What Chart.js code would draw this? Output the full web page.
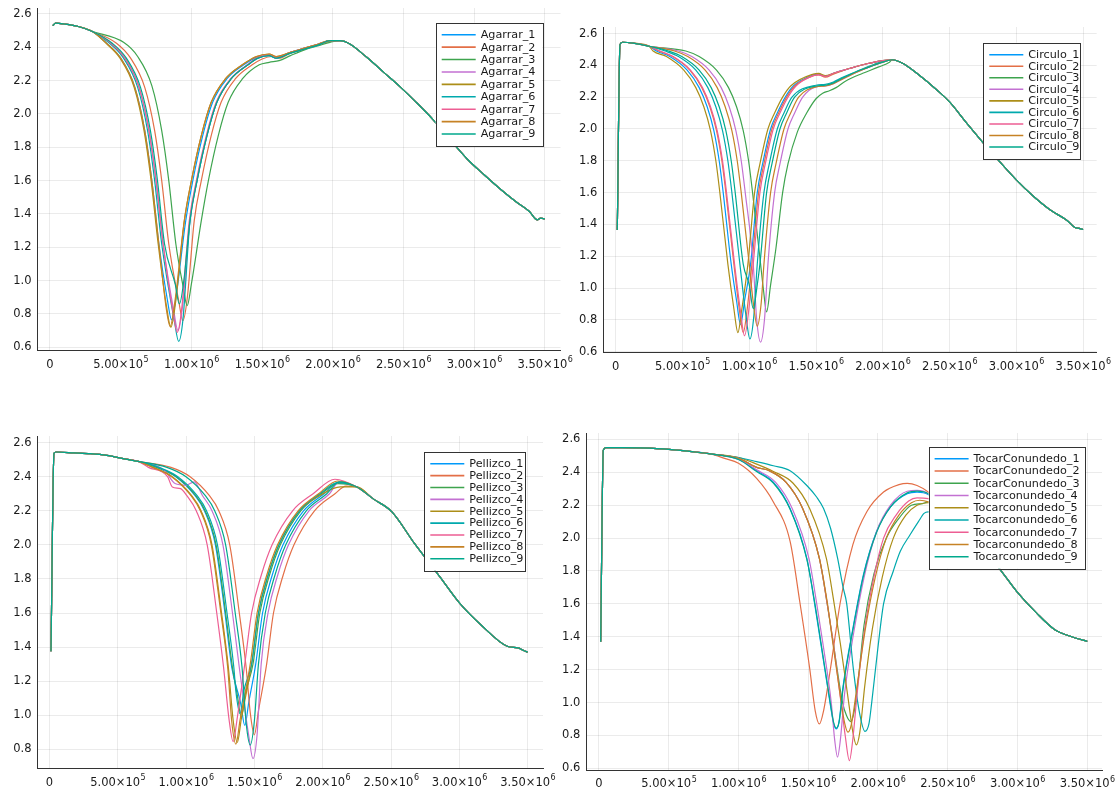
<!DOCTYPE html>
<html>
<head>
<meta charset="utf-8">
<script src="https://cdn.jsdelivr.net/npm/chart.js@4.4.1/dist/chart.umd.min.js"></script>
<style>
  html, body { margin: 0; padding: 0; background: #fff; }
  #wrap { position: relative; width: 1115px; height: 792px; }
  canvas { position: absolute; left: 0; top: 0; }
</style>
</head>
<body>
<div id="wrap">
  <canvas id="agarrar" width="1115" height="792"></canvas>
  <canvas id="circulo" width="1115" height="792"></canvas>
  <canvas id="pellizco" width="1115" height="792"></canvas>
  <canvas id="tocar" width="1115" height="792"></canvas>
</div>
<script>
// x values in the series below are in units of 1e4
const X_UNIT = 1e4;

const xTicks = [0, 5e5, 1e6, 1.5e6, 2e6, 2.5e6, 3e6, 3.5e6];
const yTicksMain = [0.6, 0.8, 1.0, 1.2, 1.4, 1.6, 1.8, 2.0, 2.2, 2.4, 2.6];
const yTicksPellizco = [0.8, 1.0, 1.2, 1.4, 1.6, 1.8, 2.0, 2.2, 2.4, 2.6];

// ---- Agarrar ----
const agarrarLabels = ['Agarrar_1', 'Agarrar_2', 'Agarrar_3', 'Agarrar_4', 'Agarrar_5', 'Agarrar_6', 'Agarrar_7', 'Agarrar_8', 'Agarrar_9'];
const agarrarHead = [[2,2.53],[4,2.545],[10,2.54],[20,2.525],[30,2.495]];
const agarrar1 = [[40,2.425],[50,2.335],[60,2.16],[67,1.9],[72,1.6],[77,1.22],[83,0.885],[86,0.765],[89,0.895],[96,1.36],[101,1.6],[108,1.87],[115,2.07],[125,2.21],[137,2.295],[146,2.34],[155,2.355],[160,2.34],[170,2.37],[180,2.395],[190,2.42],[198,2.44]];
const agarrar2 = [[47,2.425],[57,2.335],[67,2.16],[74,1.9],[79,1.6],[84,1.22],[91,0.88],[94,0.76],[97,0.89],[102,1.36],[107,1.6],[114,1.87],[121,2.07],[131,2.21],[143,2.295],[150,2.33],[157,2.345],[162,2.335],[170,2.365],[180,2.39],[190,2.415],[198,2.435]];
const agarrar3 = [[52,2.43],[62,2.345],[72,2.17],[79,1.9],[84,1.6],[89,1.22],[94,0.97],[97,0.85],[100,0.98],[107,1.36],[112,1.6],[119,1.87],[126,2.07],[136,2.21],[148,2.295],[155,2.31],[162,2.32],[170,2.35],[180,2.385],[190,2.41],[198,2.43]];
const agarrar4 = [[43,2.425],[53,2.335],[63,2.16],[70,1.9],[75,1.6],[80,1.22],[87.5,0.82],[90.5,0.7],[93.5,0.83],[99,1.36],[104,1.6],[111,1.87],[118,2.07],[128,2.21],[140,2.295],[147,2.335],[155,2.35],[160,2.335],[170,2.365],[180,2.39],[190,2.415],[198,2.44]];
const agarrar5 = [[39.5,2.425],[49.5,2.335],[59.5,2.16],[66.5,1.9],[71.5,1.6],[76.5,1.22],[82.5,0.84],[85.5,0.72],[88.5,0.85],[95,1.36],[100,1.6],[107,1.87],[114,2.07],[124,2.21],[136,2.295],[146,2.345],[155,2.36],[160,2.345],[170,2.37],[180,2.395],[190,2.42],[198,2.44]];
const agarrar6 = [[42,2.425],[52,2.335],[62,2.16],[69,1.9],[74,1.6],[79,1.22],[88,0.755],[91,0.635],[94,0.765],[99,1.36],[104,1.6],[111,1.87],[118,2.07],[128,2.21],[140,2.295],[147,2.335],[155,2.35],[160,2.335],[170,2.365],[180,2.39],[190,2.415],[198,2.44]];
const agarrar7 = [[43,2.425],[53,2.335],[63,2.16],[70,1.9],[75,1.6],[80,1.22],[87,0.81],[90,0.69],[93,0.82],[98.5,1.36],[103.5,1.6],[110.5,1.87],[117.5,2.07],[127.5,2.21],[139.5,2.295],[147,2.34],[155,2.355],[160,2.34],[170,2.37],[180,2.395],[190,2.42],[198,2.44]];
const agarrar8 = [[40,2.425],[50,2.335],[60,2.16],[67,1.9],[72,1.6],[77,1.22],[82,0.845],[85,0.725],[88,0.855],[95,1.36],[100,1.6],[107,1.87],[114,2.07],[124,2.21],[136,2.295],[146,2.345],[155,2.36],[160,2.345],[170,2.37],[180,2.395],[190,2.42],[198,2.44]];
const agarrar9 = [[44,2.425],[54,2.335],[64,2.16],[71,1.9],[76,1.6],[81,1.22],[88.5,0.98],[91.5,0.86],[94.5,0.99],[99,1.36],[104,1.6],[111,1.87],[118,2.07],[128,2.21],[140,2.295],[147,2.335],[155,2.35],[160,2.335],[170,2.365],[180,2.39],[190,2.415],[198,2.44]];
const agarrarTail = [[205,2.44],[212,2.42],[224,2.34],[236,2.25],[248,2.16],[259,2.07],[271,1.965],[283,1.845],[295,1.73],[307,1.635],[319,1.545],[330,1.47],[339,1.415],[344.5,1.365],[347,1.375],[350,1.37]];

// ---- Circulo ----
const circuloLabels = ['Circulo_1', 'Circulo_2', 'Circulo_3', 'Circulo_4', 'Circulo_5', 'Circulo_6', 'Circulo_7', 'Circulo_8', 'Circulo_9'];
const circuloHead = [[1.2,1.365],[3.2,2.53],[5,2.545],[13,2.54],[25,2.52]];
const circulo1 = [[30.5,2.49],[40.5,2.455],[53.5,2.37],[62.5,2.26],[68.5,2.14],[73.5,1.99],[77.5,1.8],[80.5,1.6],[86.5,1.15],[90.5,0.92],[93.5,0.77],[96.5,0.92],[101,1.15],[106,1.6],[110,1.78],[116,2.0],[121,2.1],[127,2.2],[133,2.27],[148,2.34],[152,2.345],[157,2.33],[163,2.35],[175,2.38],[188,2.41],[200,2.43]];
const circulo2 = [[32.5,2.49],[42.5,2.455],[55.5,2.37],[64.5,2.26],[70.5,2.14],[75.5,1.99],[79.5,1.8],[82.5,1.6],[88.5,1.15],[92.5,0.87],[95.5,0.72],[98.5,0.87],[102,1.15],[107,1.6],[111,1.78],[117,2.0],[122,2.1],[128,2.2],[134,2.27],[148,2.335],[152,2.34],[157,2.325],[163,2.345],[175,2.38],[188,2.41],[200,2.43]];
const circulo3 = [[52.5,2.49],[62.5,2.455],[75.5,2.37],[84.5,2.26],[90.5,2.14],[95.5,1.99],[99.5,1.8],[102.5,1.6],[108.5,1.15],[110.5,1.0],[113,0.85],[116,1.02],[120,1.25],[125,1.6],[129,1.78],[136,1.98],[143,2.1],[150,2.19],[155,2.225],[160,2.24],[165,2.26],[172,2.3],[185,2.35],[197,2.39],[205,2.42]];
const circulo4 = [[47,2.49],[57,2.455],[70,2.37],[79,2.26],[85,2.14],[90,1.99],[94,1.8],[97,1.6],[103,1.15],[105.5,0.81],[108.5,0.66],[111.5,0.81],[114,1.15],[119,1.6],[123,1.78],[129,2.0],[134,2.1],[140,2.2],[150,2.265],[157,2.27],[163,2.285],[170,2.315],[180,2.355],[190,2.39],[200,2.42]];
const circulo5 = [[28,2.49],[38,2.455],[51,2.37],[60,2.26],[66,2.14],[71,1.99],[75,1.8],[78,1.6],[84,1.15],[88.5,0.87],[91.5,0.72],[94.5,0.87],[99,1.15],[104,1.6],[108,1.78],[114,2.0],[119,2.1],[125,2.2],[131,2.27],[148,2.345],[152,2.35],[157,2.335],[163,2.35],[175,2.38],[188,2.41],[200,2.43]];
const circulo6 = [[37,2.49],[47,2.455],[60,2.37],[69,2.26],[75,2.14],[80,1.99],[84,1.8],[87,1.6],[93,1.15],[97.5,0.83],[100.5,0.68],[103.5,0.83],[106,1.15],[111,1.6],[115,1.78],[121,2.0],[126,2.1],[132,2.2],[150,2.275],[157,2.28],[163,2.295],[170,2.325],[180,2.36],[190,2.395],[200,2.425]];
const circulo7 = [[33,2.49],[43,2.455],[56,2.37],[65,2.26],[71,2.14],[76,1.99],[80,1.8],[83,1.6],[89,1.15],[93.5,0.85],[96.5,0.7],[99.5,0.85],[103,1.15],[108,1.6],[112,1.78],[118,2.0],[123,2.1],[129,2.2],[135,2.27],[148,2.335],[152,2.34],[157,2.33],[163,2.35],[175,2.38],[188,2.41],[200,2.43]];
const circulo8 = [[44,2.49],[54,2.455],[67,2.37],[76,2.26],[82,2.14],[87,1.99],[91,1.8],[94,1.6],[100,1.15],[103,0.91],[106,0.76],[109,0.91],[111,1.15],[116,1.6],[120,1.78],[126,2.0],[131,2.1],[137,2.2],[150,2.265],[157,2.27],[163,2.285],[170,2.315],[180,2.355],[190,2.39],[200,2.42]];
const circulo9 = [[39.5,2.49],[49.5,2.455],[62.5,2.37],[71.5,2.26],[77.5,2.14],[82.5,1.99],[86.5,1.8],[89.5,1.6],[95.5,1.15],[100,1.02],[103,0.87],[106,1.02],[108,1.15],[113,1.6],[117,1.78],[123,2.0],[128,2.1],[134,2.2],[150,2.27],[157,2.275],[163,2.29],[170,2.32],[180,2.36],[190,2.39],[200,2.42]];
const circuloTail = [[207,2.435],[215.5,2.41],[225.5,2.35],[240.5,2.245],[250,2.17],[263,2.035],[275.5,1.91],[288,1.79],[300,1.68],[313,1.575],[325.5,1.49],[338,1.425],[344,1.38],[347,1.375],[350,1.368]];

// ---- Pellizco ----
const pellizcoLabels = ['Pellizco_1', 'Pellizco_2', 'Pellizco_3', 'Pellizco_4', 'Pellizco_5', 'Pellizco_6', 'Pellizco_7', 'Pellizco_8', 'Pellizco_9'];
const pellizcoHead = [[1.2,1.375],[3.4,2.537],[5,2.545],[18,2.54],[30,2.535],[42,2.525],[55,2.505],[65,2.49]];
const pellizco1 = [[78.5,2.455],[92.5,2.4],[106.5,2.29],[113.5,2.2],[121.5,2.0],[128.5,1.6],[133.5,1.28],[140,1.07],[143,0.94],[146,1.08],[151,1.3],[156,1.6],[163,1.82],[171,2.0],[186,2.2],[201,2.3],[211,2.365]];
const pellizco2 = [[89,2.455],[103,2.4],[117,2.29],[124,2.2],[132,2.0],[139,1.6],[144,1.28],[147,1.015],[150,0.885],[153,1.025],[159,1.3],[164,1.6],[171,1.82],[179,2.0],[194,2.2],[209,2.3],[217,2.345]];
const pellizco3 = [[79,2.455],[93,2.4],[107,2.29],[114,2.2],[122,2.0],[129,1.6],[134,1.28],[137.5,1.12],[140.5,0.99],[143.5,1.13],[149,1.3],[154,1.6],[161,1.82],[169,2.0],[184,2.2],[199,2.3],[211,2.36]];
const pellizco4 = [[84,2.44],[92,2.36],[100,2.35],[106,2.37],[112,2.29],[119,2.2],[127,2.0],[134,1.6],[139,1.28],[146,0.875],[149,0.745],[152,0.885],[155,1.3],[160,1.6],[167,1.82],[175,2.0],[190,2.2],[205,2.3],[212,2.37]];
const pellizco5 = [[76,2.455],[90,2.4],[104,2.29],[111,2.2],[119,2.0],[126,1.6],[131,1.28],[134.5,0.97],[137.5,0.84],[140.5,0.98],[148,1.3],[153,1.6],[160,1.82],[168,2.0],[183,2.2],[198,2.29],[213,2.34]];
const pellizco6 = [[80,2.455],[94,2.4],[108,2.29],[115,2.2],[123,2.0],[130,1.6],[135,1.28],[136.5,1.14],[139.5,1.01],[142.5,1.15],[148,1.3],[153,1.6],[160,1.82],[168,2.0],[183,2.2],[198,2.3],[211,2.365]];
const pellizco7 = [[72.5,2.455],[86.5,2.4],[90,2.34],[96,2.33],[100.5,2.29],[107.5,2.2],[115.5,2.0],[122.5,1.6],[127.5,1.28],[131.5,0.975],[134.5,0.845],[137.5,0.985],[143,1.3],[148,1.6],[155,1.82],[163,2.0],[178,2.2],[193,2.3],[209,2.385]];
const pellizco8 = [[75.5,2.455],[89.5,2.4],[103.5,2.29],[110.5,2.2],[118.5,2.0],[125.5,1.6],[130.5,1.28],[133.5,0.96],[136.5,0.83],[139.5,0.97],[147,1.3],[152,1.6],[159,1.82],[167,2.0],[182,2.2],[197,2.3],[211,2.375]];
const pellizco9 = [[86,2.455],[100,2.4],[114,2.29],[121,2.2],[129,2.0],[136,1.6],[141,1.28],[144,0.955],[147,0.825],[150,0.965],[153,1.3],[158,1.6],[165,1.82],[173,2.0],[188,2.2],[203,2.3],[212,2.37]];
const pellizcoTail = [[225,2.34],[237,2.27],[250.5,2.195],[267,2.01],[285.5,1.815],[300.5,1.655],[316.5,1.525],[335,1.405],[343,1.395],[347,1.38],[350,1.37]];

// ---- TocarConundedo ----
const tocarLabels = ['TocarConundedo_1', 'TocarConundedo_2', 'TocarConundedo_3', 'Tocarconundedo_4', 'Tocarconundedo_5', 'Tocarconundedo_6', 'Tocarconundedo_7', 'Tocarconundedo_8', 'Tocarconundedo_9'];
const tocarHead = [[1.2,1.37],[3.1,2.535],[5,2.55],[17,2.55],[30,2.548],[50,2.54],[65,2.527],[80,2.512]];
const tocar1 = [[100,2.48],[113,2.41],[125,2.34],[137,2.18],[149,1.876],[154.6,1.6],[159,1.36],[165.6,1.0],[168,0.88],[170,0.84],[172,0.88],[175,1.1],[182,1.45],[189.5,1.775],[199,2.04],[209,2.19],[221,2.27],[228,2.28],[236,2.265]];
const tocar2 = [[90,2.485],[100,2.455],[113,2.363],[125,2.22],[137,1.98],[144,1.61],[151,1.21],[155,0.95],[158,0.87],[161,0.95],[166,1.21],[173,1.61],[182,1.96],[192,2.16],[204,2.28],[215,2.325],[221,2.333],[228,2.32],[236,2.28]];
const tocar3 = [[100,2.485],[113,2.43],[122,2.41],[134,2.34],[146,2.18],[158,1.876],[163.6,1.6],[168,1.36],[174.6,1.0],[177.5,0.92],[180.5,0.885],[183,0.95],[186,1.15],[190,1.47],[197,1.78],[206,2.0],[215,2.12],[224,2.2],[232,2.21],[236,2.22]];
const tocar4 = [[100,2.48],[113,2.415],[126.5,2.34],[138.5,2.18],[150.5,1.876],[156.1,1.6],[160.5,1.36],[166.5,1.0],[169,0.77],[171,0.668],[173,0.77],[176,1.05],[182.5,1.42],[190,1.76],[199,2.04],[209,2.2],[221,2.285],[228,2.29],[236,2.27]];
const tocar5 = [[100,2.49],[113,2.45],[125,2.405],[139,2.335],[151,2.18],[163,1.876],[168.6,1.6],[173,1.36],[179,1.0],[182,0.82],[184.5,0.743],[187,0.82],[190.5,1.1],[196,1.45],[203,1.76],[211,2.0],[220,2.14],[228,2.2],[236,2.215]];
const tocar6 = [[100,2.49],[113,2.465],[125,2.44],[137,2.41],[149,2.32],[156,2.25],[161,2.18],[166,2.06],[171,1.88],[175,1.7],[177.6,1.6],[182.4,1.2],[186.5,0.95],[190.7,0.825],[193.5,0.87],[195.5,1.0],[199.5,1.3],[204,1.6],[211,1.8],[216,1.92],[223,2.02],[229,2.1],[233,2.15],[236,2.16]];
const tocar7 = [[100,2.485],[113,2.43],[122,2.41],[134,2.34],[146,2.18],[158,1.876],[163.6,1.6],[168,1.36],[173.5,1.0],[176.5,0.8],[179.5,0.647],[182,0.78],[185,1.05],[190,1.42],[197,1.76],[204,2.0],[213,2.14],[222,2.225],[228,2.245],[236,2.24]];
const tocar8 = [[100,2.485],[113,2.43],[122,2.41],[134,2.34],[146,2.18],[158,1.876],[163.8,1.6],[168,1.34],[173,1.04],[176,0.88],[178.5,0.82],[181,0.87],[185,1.1],[191,1.45],[198,1.76],[206,2.0],[215,2.14],[224,2.215],[230,2.23],[236,2.22]];
const tocar9 = [[100,2.478],[113,2.405],[125,2.335],[137,2.175],[149,1.87],[154.8,1.6],[159.2,1.36],[165.8,1.0],[168.2,0.88],[170.2,0.845],[172.2,0.885],[175.2,1.1],[182.2,1.45],[189.7,1.775],[199,2.035],[209,2.19],[221,2.275],[228,2.285],[236,2.27]];
const tocarTail = [[250,2.15],[270,1.98],[287,1.815],[300,1.67],[313.6,1.545],[326.5,1.445],[339,1.4],[350,1.372]];

// Plots.jl default palette
const COLORS = ['#009AFA', '#E36F47', '#3EA44E', '#C371D2', '#AC8E18', '#00A9AD', '#ED5E93', '#C68225', '#00A98D'];
const FONT = '"DejaVu Sans", "Liberation Sans", sans-serif';
const TEXT = '#1a1a1a';
const W = 1115, H = 792, YW = 30, XH = 26;

// area = [left, top, right, bottom] of the plot box, legend = [x, y, w, h]
const panels = [
  {canvas: 'agarrar', labels: agarrarLabels, head: agarrarHead, tail: agarrarTail,
   series: [agarrar1, agarrar2, agarrar3, agarrar4, agarrar5, agarrar6, agarrar7, agarrar8, agarrar9],
   yTicks: yTicksMain, area: [37.5, 8, 560.5, 350.7], xRange: [-88390, 3.61e6], yRange: [0.5796, 2.636],
   legend: [435.7, 22.7, 106.6, 123.3]},
  {canvas: 'circulo', labels: circuloLabels, head: circuloHead, tail: circuloTail,
   series: [circulo1, circulo2, circulo3, circulo4, circulo5, circulo6, circulo7, circulo8, circulo9],
   yTicks: yTicksMain, area: [603.3, 27, 1096.7, 352.3], xRange: [-92856, 3.602e6], yRange: [0.596, 2.641],
   legend: [983.3, 42.7, 97.4, 116.3]},
  {canvas: 'pellizco', labels: pellizcoLabels, head: pellizcoHead, tail: pellizcoTail,
   series: [pellizco1, pellizco2, pellizco3, pellizco4, pellizco5, pellizco6, pellizco7, pellizco8, pellizco9],
   yTicks: yTicksPellizco, area: [37.5, 436, 543, 768.3], xRange: [-86565, 3.612e6], yRange: [0.6885, 2.639],
   legend: [424.3, 451.7, 101.4, 119]},
  {canvas: 'tocar', labels: tocarLabels, head: tocarHead, tail: tocarTail,
   series: [tocar1, tocar2, tocar3, tocar4, tocar5, tocar6, tocar7, tocar8, tocar9],
   yTicks: yTicksMain, area: [586.4, 433, 1102, 770], xRange: [-90323, 3.606e6], yRange: [0.59, 2.639],
   legend: [928.6, 446.7, 156.4, 122]}
];

// legend box inside the plot + x tick labels with raised exponents
const plotsDecor = {
  id: 'plotsDecor',
  afterDatasetsDraw(chart, args, opts) {
    const ctx = chart.ctx;
    const [x, y, w, h] = opts.box;
    ctx.save();
    ctx.fillStyle = '#fff';
    ctx.fillRect(x, y, w, h);
    ctx.strokeStyle = '#333';
    ctx.lineWidth = 1;
    ctx.strokeRect(Math.round(x) + 0.5, Math.round(y) + 0.5, Math.round(w), Math.round(h));
    const rowH = (h - 24) / 8;
    ctx.font = '11.2px ' + FONT;
    ctx.textBaseline = 'middle';
    chart.data.datasets.forEach((ds, i) => {
      const ry = y + 12 + i * rowH;
      ctx.strokeStyle = ds.borderColor;
      ctx.lineWidth = 1.6;
      ctx.beginPath();
      ctx.moveTo(x + 6, ry);
      ctx.lineTo(x + 40, ry);
      ctx.stroke();
      ctx.fillStyle = TEXT;
      ctx.fillText(ds.label, x + 45, ry + 0.5);
    });
    ctx.restore();
  },
  afterDraw(chart) {
    const ctx = chart.ctx;
    const sx = chart.scales.x;
    const ty = sx.top + 14.5;
    ctx.save();
    ctx.fillStyle = TEXT;
    ctx.textBaseline = 'middle';
    ctx.textAlign = 'left';
    xTicks.forEach(v => {
      const px = sx.getPixelForValue(v);
      if (v === 0) {
        ctx.font = '11.5px ' + FONT;
        const w0 = ctx.measureText('0').width;
        ctx.fillText('0', px - w0 / 2, ty);
        return;
      }
      const e = Math.floor(Math.log10(v));
      const main = (v / Math.pow(10, e)).toFixed(2) + '×10';
      const exp = String(e);
      ctx.font = '11.5px ' + FONT;
      const wm = ctx.measureText(main).width;
      ctx.font = '8px ' + FONT;
      const we = ctx.measureText(exp).width;
      const x0 = px - (wm + we) / 2;
      ctx.font = '11.5px ' + FONT;
      ctx.fillText(main, x0, ty);
      ctx.font = '8px ' + FONT;
      ctx.fillText(exp, x0 + wm + 0.5, ty - 5);
    });
    ctx.restore();
  }
};

const gridOpts = {color: 'rgba(0,0,0,0.08)', lineWidth: 1, drawTicks: false};
const borderOpts = {color: '#333', width: 1};

panels.forEach(p => {
  new Chart(document.getElementById(p.canvas), {
    type: 'line',
    data: {
      datasets: p.series.map((s, i) => ({
        label: p.labels[i],
        data: p.head.concat(s, p.tail).map(([x, y]) => ({x: x * X_UNIT, y: y})),
        borderColor: COLORS[i],
        borderWidth: 1.2,
        pointRadius: 0,
        fill: false,
        cubicInterpolationMode: 'monotone',
        order: 8 - i
      }))
    },
    options: {
      responsive: false,
      animation: false,
      events: [],
      layout: {padding: {left: p.area[0] - YW, top: p.area[1], right: W - p.area[2], bottom: H - p.area[3] - XH}},
      scales: {
        x: {
          type: 'linear', min: p.xRange[0], max: p.xRange[1],
          afterBuildTicks: s => { s.ticks = xTicks.map(v => ({value: v})); },
          afterFit: s => { s.height = XH; s.paddingLeft = 0; s.paddingRight = 0; },
          grid: gridOpts, border: borderOpts,
          ticks: {display: false}
        },
        y: {
          type: 'linear', min: p.yRange[0], max: p.yRange[1],
          afterBuildTicks: s => { s.ticks = p.yTicks.map(v => ({value: v})); },
          afterFit: s => { s.width = YW; s.paddingTop = 0; s.paddingBottom = 0; },
          grid: gridOpts, border: borderOpts,
          ticks: {callback: v => v.toFixed(1), padding: 6, color: TEXT, font: {family: FONT, size: 11.5}}
        }
      },
      plugins: {
        legend: {display: false},
        tooltip: {enabled: false},
        plotsDecor: {box: p.legend}
      }
    },
    plugins: [plotsDecor]
  });
});
</script>
</body>
</html>
